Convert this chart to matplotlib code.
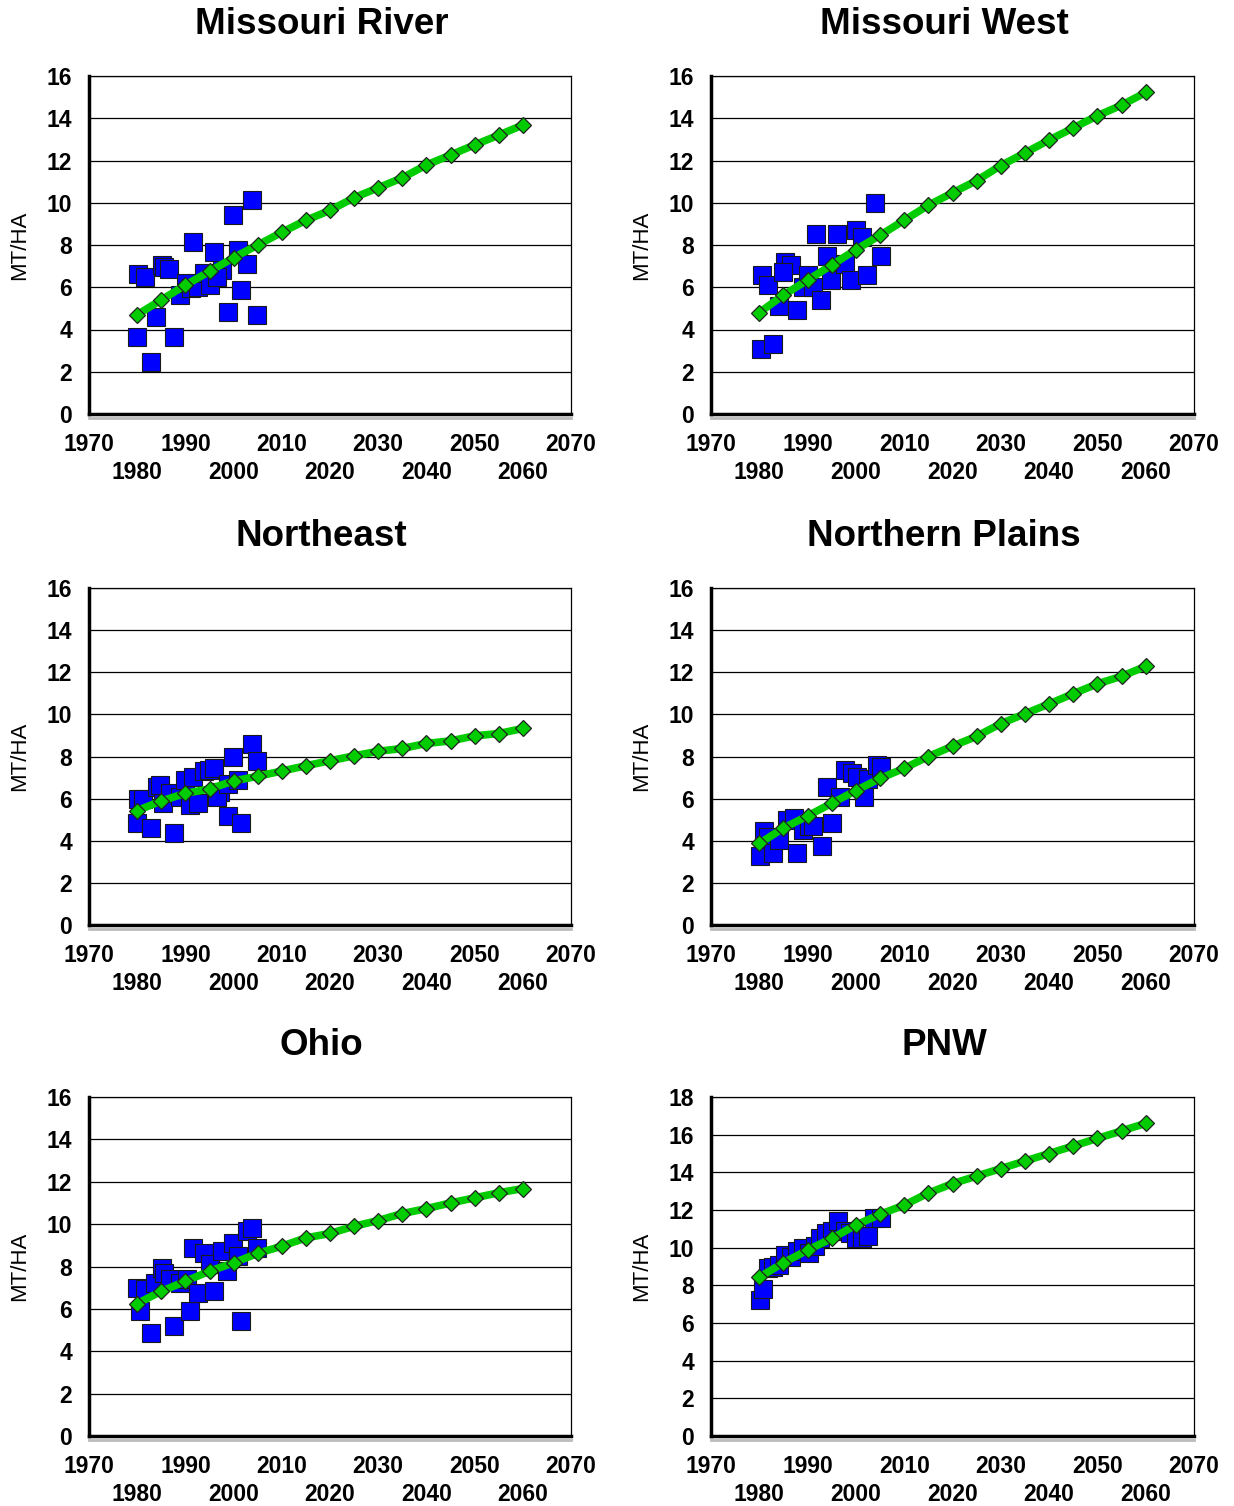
import numpy as np
import matplotlib.pyplot as plt

plt.rcParams['font.family'] = ['Liberation Sans', 'DejaVu Sans']

titles = ['Missouri River', 'Missouri West', 'Northeast', 'Northern Plains', 'Ohio', 'PNW']

# trend line years (every 5 years)
trend_years = [1980, 1985, 1990, 1995, 2000, 2005, 2010, 2015, 2020, 2025,
               2030, 2035, 2040, 2045, 2050, 2055, 2060]

mr_trend = [4.7, 5.4, 6.1, 6.75, 7.4, 8.0, 8.6, 9.17, 9.64, 10.24, 10.71, 11.18, 11.79, 12.26, 12.74, 13.2, 13.68]
mw_trend = [4.8, 5.63, 6.34, 7.05, 7.78, 8.46, 9.17, 9.88, 10.47, 11.05, 11.76, 12.36, 12.97, 13.54, 14.12, 14.62, 15.22]
ne_trend = [5.43, 5.89, 6.25, 6.46, 6.84, 7.06, 7.31, 7.56, 7.8, 8.03, 8.25, 8.38, 8.62, 8.74, 8.98, 9.09, 9.33]
np_trend = [3.87, 4.6, 5.18, 5.78, 6.38, 6.96, 7.44, 8.0, 8.49, 8.96, 9.56, 10.03, 10.5, 10.98, 11.45, 11.81, 12.28]
oh_trend = [6.25, 6.83, 7.3, 7.78, 8.17, 8.62, 8.96, 9.35, 9.56, 9.9, 10.17, 10.5, 10.73, 11.0, 11.24, 11.48, 11.68]
pnw_trend = [8.43, 9.2, 9.87, 10.49, 11.2, 11.77, 12.26, 12.9, 13.4, 13.8, 14.2, 14.6, 15.0, 15.4, 15.8, 16.2, 16.6]

# observed yields
mr_years = [1980.0, 1980.2, 1981.6, 1982.8, 1983.9, 1985.1, 1985.6, 1986.6, 1987.7, 1988.9, 1990.1,
            1991.6, 1991.2, 1992.7, 1993.9, 1995.0, 1996.0, 1997.5, 1996.5, 1998.8, 1999.9, 2001.0,
            2001.5, 2002.7, 2003.8, 2004.8]
mr_obs = [3.64, 6.62, 6.48, 2.46, 4.61, 7.05, 6.95, 6.85, 3.64, 5.63, 6.2,
          8.12, 5.95, 6.0, 6.69, 6.1, 7.68, 6.81, 6.5, 4.82, 9.44, 7.76,
          5.87, 7.08, 10.15, 4.69]

mw_years = [1980.4, 1980.6, 1981.8, 1982.9, 1984.1, 1985.4, 1986.6, 1985.0, 1987.8, 1989.1, 1990.1,
            1991.2, 1991.8, 1992.8, 1994.1, 1994.9, 1996.1, 1997.8, 1999.0, 2000.0, 2001.3, 2002.2,
            2004.0, 2005.1]
mw_obs = [3.1, 6.6, 6.1, 3.3, 5.1, 7.2, 7.05, 6.7, 4.9, 6.0, 6.57,
          6.0, 8.5, 5.4, 7.5, 6.34, 8.5, 7.1, 6.34, 8.7, 8.4, 6.6,
          10.0, 7.5]

ne_years = [1979.9, 1980.2, 1981.3, 1982.8, 1984.1, 1984.7, 1985.4, 1986.8, 1987.7, 1988.9, 1989.9,
            1991.0, 1991.6, 1992.7, 1993.9, 1994.9, 1996.0, 1997.2, 1996.5, 1998.8, 1998.9, 1999.9,
            2001.0, 2001.5, 2003.8, 2004.8]
ne_obs = [4.84, 6.0, 6.0, 4.6, 6.55, 6.65, 5.8, 6.28, 4.37, 6.1, 6.89,
          5.7, 7.02, 5.8, 7.33, 7.35, 7.44, 6.33, 6.1, 5.18, 6.7, 8.0,
          6.89, 4.84, 8.6, 7.8]

np_years = [1980.2, 1980.9, 1981.9, 1982.9, 1984.0, 1985.7, 1987.1, 1987.9, 1989.1, 1990.3, 1991.2,
            1993.0, 1994.0, 1995.0, 1996.8, 1997.8, 1999.2, 2000.2, 2001.6, 2002.6, 2004.4, 2005.3]
np_obs = [3.26, 4.44, 4.2, 3.42, 4.05, 5.0, 5.07, 3.42, 4.52, 4.7, 4.7,
          3.76, 6.57, 4.84, 6.1, 7.35, 7.2, 7.05, 6.1, 6.95, 7.6, 7.5]

oh_years = [1980.0, 1980.6, 1981.6, 1982.8, 1983.7, 1985.1, 1985.6, 1986.8, 1987.7, 1988.9, 1990.3,
            1991.0, 1991.6, 1992.7, 1993.9, 1995.0, 1996.0, 1997.5, 1998.6, 1999.9, 2001.0, 2001.5,
            2002.7, 2003.8, 2004.8]
oh_obs = [6.99, 5.89, 6.96, 4.84, 7.23, 7.94, 7.69, 7.39, 5.18, 7.23, 7.39,
          5.89, 8.88, 6.75, 8.64, 8.14, 6.85, 8.72, 7.78, 9.12, 8.49, 5.42,
          9.67, 9.83, 8.88]

pnw_years = [1980.2, 1980.8, 1981.8, 1982.9, 1984.1, 1985.4, 1986.6, 1987.8, 1989.1, 1990.3, 1991.6,
             1992.6, 1993.9, 1995.1, 1996.3, 1997.8, 1998.8, 2000.1, 2001.3, 2002.6, 2003.8, 2005.1]
pnw_obs = [7.2, 7.8, 8.9, 9.0, 9.1, 9.6, 9.5, 9.8, 10.0, 9.7, 10.1,
           10.5, 10.8, 10.9, 11.4, 10.9, 10.8, 10.5, 10.5, 10.6, 11.6, 11.6]

obs_years = [mr_years, mw_years, ne_years, np_years, oh_years, pnw_years]
obs_vals = [mr_obs, mw_obs, ne_obs, np_obs, oh_obs, pnw_obs]
trends = [mr_trend, mw_trend, ne_trend, np_trend, oh_trend, pnw_trend]
ymaxes = [16, 16, 16, 16, 16, 18]

fig = plt.figure(figsize=(12.34, 15.06), dpi=100)

col_left = [89 / 1234, 711 / 1234]
col_w = [482 / 1234, 483 / 1234]
row_bottom = [1 - 414 / 1506, 1 - 925 / 1506, 1 - 1436 / 1506]
row_h = [338 / 1506, 337 / 1506, 339 / 1506]


def panel(i):
    r, c = i // 2, i % 2
    ax = fig.add_axes([col_left[c], row_bottom[r], col_w[c], row_h[r]])
    ax.plot(obs_years[i], obs_vals[i], 's', ms=13.5, mfc='#0000FF', mec='#1a1a1a', mew=0.8,
            ls='none', zorder=3)
    ax.plot(trend_years, trends[i], '-D', color='#00CC00', lw=5.5, ms=8.5,
            mfc='#00CC00', mec='#222222', mew=0.9, zorder=4)

    ax.set_xlim(1970, 2070)
    ax.set_ylim(0, ymaxes[i])
    ax.set_yticks(np.arange(0, ymaxes[i] + 1, 2))
    ax.set_xticks([1970, 1990, 2010, 2030, 2050, 2070])
    ax.set_xticks([1980, 2000, 2020, 2040, 2060], minor=True)
    ax.set_xticklabels(['1970', '1990', '2010', '2030', '2050', '2070'])
    ax.set_xticklabels(['1980', '2000', '2020', '2040', '2060'], minor=True)
    ax.tick_params(axis='x', which='major', length=0, pad=14, labelsize=16.5)
    ax.tick_params(axis='x', which='minor', length=0, pad=34, labelsize=16.5)
    ax.tick_params(axis='y', length=0, pad=12, labelsize=16.5)
    for lab in ax.get_xticklabels() + ax.get_xticklabels(minor=True) + ax.get_yticklabels():
        lab.set_fontweight('bold')

    ax.grid(axis='y', color='black', lw=0.9)
    ax.set_axisbelow(True)
    ax.spines['left'].set_linewidth(2.5)
    ax.spines['bottom'].set_linewidth(2.5)
    ax.spines['top'].set_linewidth(0.9)
    ax.spines['right'].set_linewidth(0.9)
    # light shadow under the x axis line
    ax.axhline(-0.012 * ymaxes[i], color='#bbbbbb', lw=2, clip_on=False, zorder=1)

    ax.set_ylabel('MT/HA', fontsize=16, labelpad=12)
    ax.set_title(titles[i], fontsize=26.5, fontweight='bold', pad=30, x=0.483)
    return ax


for i in range(6):
    panel(i)

fig.savefig('out.png', dpi=100, facecolor='white')
